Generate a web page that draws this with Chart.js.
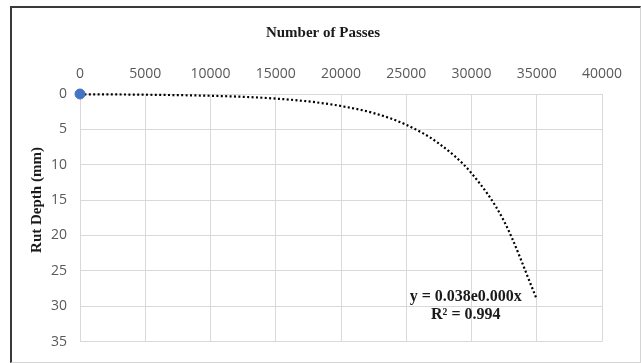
<!DOCTYPE html>
<html>
<head>
<meta charset="utf-8">
<script src="https://cdn.jsdelivr.net/npm/chart.js@4/dist/chart.umd.min.js"></script>
<style>
  html, body { margin: 0; padding: 0; background: #ffffff; }
  #wrap { position: relative; width: 641px; height: 363px; overflow: hidden; }
  #frame {
    position: absolute; left: 10px; top: 6px; width: 628px; height: 354px;
    border-top: 2px solid #3a3a3a; border-left: 2px solid #3a3a3a;
    border-right: 1px solid #d4d4d4; border-bottom: 1px solid #d4d4d4;
  }
  #chart { position: absolute; left: 0; top: 0; }
</style>
</head>
<body>
<div id="wrap">
  <div id="frame"></div>
  <canvas id="chart" width="641" height="363"></canvas>
</div>
<script>
// Measured rut depth
const passes = [0];
const rutDepth = [0];

// Exponential trendline
const trendPasses = [0, 2500, 5000, 7500, 10000, 12500, 15000, 17500, 20000, 22500, 25000, 27500, 30000, 32500, 35000];
const trendDepth  = [0.04, 0.06, 0.1, 0.16, 0.25, 0.4, 0.65, 1.05, 1.7, 2.7, 4.35, 7.0, 11.2, 18.0, 29.0];

// Axis ticks
const xTicks = [0, 5000, 10000, 15000, 20000, 25000, 30000, 35000, 40000];
const yTicks = [0, 5, 10, 15, 20, 25, 30, 35];

// Text
const xTitle = 'Number of Passes';
const yTitle = 'Rut Depth (mm)';
const equationLines = ['y = 0.038e0.000x', 'R\u00b2 = 0.994'];

const gridColor = '#d9d9d9';
const tickColor = '#595959';
const tickFont = { family: '"Open Sans", "Liberation Sans", sans-serif', size: 14 };
const titleFont = 'bold 15px "Liberation Serif", "Times New Roman", serif';
const equationFont = 'bold 16px "Liberation Serif", "Times New Roman", serif';

const textPlugin = {
  id: 'chartText',
  afterDraw(chart) {
    const ctx = chart.ctx;
    const area = chart.chartArea;
    ctx.save();
    ctx.fillStyle = '#1a1a1a';
    ctx.font = titleFont;
    ctx.textAlign = 'center';
    ctx.textBaseline = 'middle';
    // horizontal axis title, centred on the frame
    ctx.fillText(xTitle, 323, 33);
    // vertical axis title
    ctx.save();
    ctx.translate(37, 200);
    ctx.rotate(-Math.PI / 2);
    ctx.fillText(yTitle, 0, 0);
    ctx.restore();
    // trendline equation
    ctx.font = equationFont;
    const ex = area.left + (area.right - area.left) * 0.739;
    ctx.fillText(equationLines[0], ex, 297);
    ctx.fillText(equationLines[1], ex, 315);
    ctx.restore();
  }
};

new Chart(document.getElementById('chart'), {
  type: 'scatter',
  data: {
    datasets: [
      {
        label: 'Measured',
        data: passes.map((p, i) => ({ x: p, y: rutDepth[i] })),
        pointRadius: 5,
        pointHoverRadius: 5,
        backgroundColor: '#4472c4',
        borderColor: '#4472c4',
        borderWidth: 1,
        clip: false,
        order: 0
      },
      {
        label: 'Expon. trend',
        type: 'line',
        data: trendPasses.map((p, i) => ({ x: p, y: trendDepth[i] })),
        showLine: true,
        borderColor: '#000000',
        borderWidth: 2.2,
        borderDash: [2, 2.4],
        pointRadius: 0,
        fill: false,
        clip: false,
        cubicInterpolationMode: 'monotone',
        order: 1
      }
    ]
  },
  options: {
    responsive: false,
    animation: false,
    events: [],
    layout: { padding: { left: 0, top: 0, right: 39, bottom: 18 } },
    plugins: {
      legend: { display: false },
      tooltip: { enabled: false },
      title: { display: false }
    },
    scales: {
      x: {
        type: 'linear',
        position: 'top',
        min: xTicks[0],
        max: xTicks[xTicks.length - 1],
        afterBuildTicks: (scale) => { scale.ticks = xTicks.map(v => ({ value: v })); },
        afterFit: (scale) => { scale.height = 94; },
        ticks: { color: tickColor, font: tickFont, padding: 12, maxRotation: 0, autoSkip: false,
                 callback: (v) => String(v) },
        grid: { color: gridColor, lineWidth: 1, drawTicks: false },
        border: { color: gridColor, width: 1 },
        title: { display: false }
      },
      y: {
        type: 'linear',
        reverse: true,
        min: yTicks[0],
        max: yTicks[yTicks.length - 1],
        afterBuildTicks: (scale) => { scale.ticks = yTicks.map(v => ({ value: v })); },
        afterFit: (scale) => { scale.width = 80; },
        ticks: { color: tickColor, font: tickFont, padding: 13, autoSkip: false,
                 callback: (v) => String(v) },
        grid: { color: gridColor, lineWidth: 1, drawTicks: false },
        border: { color: gridColor, width: 1 },
        title: { display: false }
      }
    }
  },
  plugins: [textPlugin]
});
</script>
</body>
</html>
